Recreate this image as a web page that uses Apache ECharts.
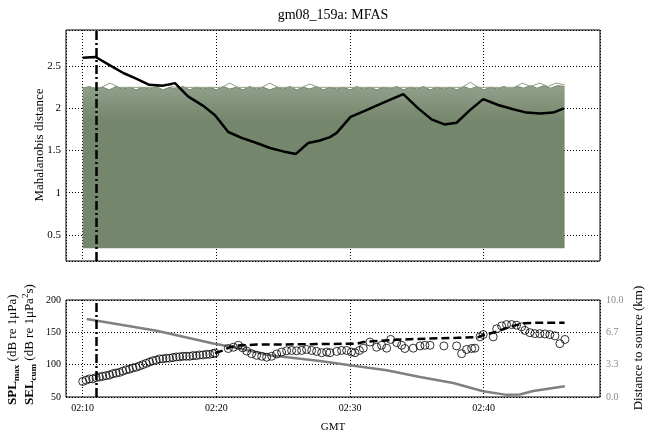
<!DOCTYPE html>
<html><head><meta charset="utf-8">
<script src="https://cdn.jsdelivr.net/npm/echarts@6/dist/echarts.min.js"></script>
<style>html,body{margin:0;padding:0;background:#fff}#c{width:646px;height:437px}</style>
</head><body><div id="c"></div>
<script>
const FONT = 'Liberation Serif';
const titleText = 'gm08_159a: MFAS';
// x values are minutes after 02:00 GMT
const xTicks = [10, 20, 30, 40];
const xTickLabels = ['02:10', '02:20', '02:30', '02:40'];
const eventMinute = 11;

// Mahalanobis distance of the event (black line)
const mahalMinutes = [10, 10.97, 12.04, 13.04, 14.04, 14.98, 16.03, 16.9, 17.9, 19.02, 19.9, 20.89, 21.89, 23.01, 24.01, 25.0, 25.95, 26.87, 27.75, 28.5, 29.0, 30.04, 31.1, 32.24, 33.98, 35.1, 36.1, 37.05, 37.97, 38.97, 39.96, 41.08, 42.2, 43.2, 44.2, 45.2, 46.0];
const mahalValues  = [2.60, 2.61, 2.51, 2.42, 2.35, 2.28, 2.27, 2.30, 2.14, 2.03, 1.92, 1.72, 1.65, 1.59, 1.53, 1.49, 1.46, 1.59, 1.62, 1.66, 1.71, 1.90, 1.97, 2.05, 2.17, 2.00, 1.87, 1.81, 1.83, 1.98, 2.11, 2.04, 1.99, 1.95, 1.94, 1.95, 2.00];

// Reference (background) distances: green band envelope
const bandFloor = 0.34;
const bandLightFloor = 1.85;
const bandMinutes = [10,10.5,11,11.5,12,12.5,13,13.5,14,14.5,
  15,15.5,16,16.5,17,17.5,18,18.5,19,19.5,
  20,20.5,21,21.5,22,22.5,23,23.5,24,24.5,
  25,25.5,26,26.5,27,27.5,28,28.5,29,29.5,
  30,30.5,31,31.5,32,32.5,33,33.5,34,34.5,
  35,35.5,36,36.5,37,37.5,38,38.5,39,39.5,
  40,40.5,41,41.5,42,42.5,43,43.5,44,44.5,
  45,45.5,46.05];
const bandTop = [2.24,2.26,2.23,2.25,2.22,2.26,2.23,2.25,2.22,2.25,
  2.23,2.26,2.22,2.25,2.23,2.26,2.22,2.25,2.23,2.25,
  2.22,2.26,2.23,2.25,2.22,2.26,2.23,2.25,2.22,2.25,
  2.23,2.26,2.22,2.25,2.23,2.26,2.22,2.25,2.23,2.25,
  2.22,2.26,2.23,2.25,2.22,2.25,2.23,2.26,2.22,2.25,
  2.23,2.26,2.22,2.25,2.23,2.25,2.22,2.26,2.23,2.26,
  2.22,2.25,2.23,2.26,2.23,2.26,2.24,2.27,2.24,2.27,
  2.24,2.27,2.26];
const peakMinutes = [10, 11.4, 12.05, 12.7, 15.5, 16.2, 16.9, 20.4, 21.0, 21.6, 23.4, 24.0, 24.6, 26.4, 27.0, 27.6, 38.4, 39.0, 39.6, 42.3, 42.9, 43.5, 44.2, 44.8, 45.4, 46.05];
const peakValues  = [2.24, 2.25, 2.30, 2.25, 2.25, 2.29, 2.25, 2.25, 2.30, 2.25, 2.25, 2.30, 2.25, 2.25, 2.29, 2.25, 2.25, 2.31, 2.25, 2.25, 2.30, 2.26, 2.30, 2.26, 2.30, 2.28];

// SPLmax (circles)
const splMinutes = [10.0,10.25,10.5,10.75,11.0,11.25,11.5,11.75,12.0,12.25,12.5,12.75,13.0,13.25,13.5,13.75,14.0,14.25,14.5,14.75,
  15.0,15.25,15.5,15.75,16.0,16.25,16.5,16.75,17.0,17.25,17.5,17.75,18.0,18.25,18.5,18.75,19.0,19.25,19.5,19.75,19.9,
  20.89,21.27,21.64,21.97,22.27,22.64,23.01,23.39,23.76,24.14,24.51,24.88,25.26,25.63,26.0,26.38,26.75,27.13,27.5,27.88,28.25,
  28.5,29.0,29.37,29.75,30.1,30.37,30.7,30.99,31.49,31.99,32.36,32.74,33.04,33.49,33.86,34.1,34.73,35.23,35.6,35.98,
  37.02,37.97,38.35,38.72,39.1,39.34,39.72,39.96,40.71,40.97,41.34,41.71,42.09,42.46,42.83,43.08,43.46,43.83,44.2,44.58,44.95,45.33,45.7,46.08];
const splValues = [74,76,78,78,80,81,82,83,84,86,87,88,90,92,93,95,96,98,100,102,
  104,106,107,109,109,110,110,111,112,112,113,113,113,114,114,115,115,116,116,117,118,
  125,127,130,126,121,117,114.5,113,111.5,113,116.5,119.5,121.5,122,121.5,122,123.5,122,120.5,118.5,119.5,
  118.5,120.5,122,122,119.5,118.5,122,125.5,135,127,130,125.5,139,134,130,125,125.5,129,130,130,
  129,129,117,123.5,125,125.5,143,146.5,143,155.5,160,162,162,161,158.5,153,149.5,148,148,147.5,146.5,144.5,132.5,139];

// SELcum (dashed line)
const selMinutes = [19.9, 20.5, 20.9, 21.5, 23.0, 26.0, 28.3, 30.5, 31.0, 32.0, 34.0, 36.0, 38.0, 39.6, 40.0, 40.8, 41.5, 42.2, 43.0, 44.0, 46.05];
const selValues  = [118, 122, 126, 129.5, 131, 131.5, 132, 132.5, 135, 136.5, 139, 140.5, 141.5, 142.5, 146, 150, 155, 160, 164, 165, 165];

// Distance to source, km (grey line, right axis)
const distMinutes = [10.3, 15.53, 19.77, 21.77, 24.0, 27.75, 30.0, 32.74, 35.23, 37.72, 39.96, 41.71, 42.7, 43.7, 46.07];
const distKm      = [8.05, 6.83, 5.52, 5.0, 4.31, 3.7, 3.28, 2.76, 2.07, 1.45, 0.6, 0.22, 0.25, 0.62, 1.1];

const zip = (xs, ys) => xs.map((x, i) => [x, ys[i]]);
const green = '#74866b';
const dotted = { color: '#000', width: 1, type: [1, 2] };
const xFmt = v => { const i = xTicks.findIndex(t => Math.abs(t - v) < 1e-6); return i >= 0 ? xTickLabels[i] : ''; };
const yTopFmt = v => (Math.abs(v * 2 - Math.round(v * 2)) < 1e-6) ? String(+v.toFixed(1)) : '';

const chart = echarts.init(document.getElementById('c'), null, { renderer: 'canvas' });
const option = {
  animation: false,
  backgroundColor: '#fff',
  textStyle: { fontFamily: FONT },
  grid: [
    { left: 66, right: 46, top: 30, height: 231, show: true, borderColor: '#000', borderWidth: 1 },
    { left: 66, right: 46, top: 300, height: 97, show: true, borderColor: '#000', borderWidth: 1 }
  ],
  xAxis: [
    { gridIndex: 0, type: 'value', min: 8.75, max: 48.7, splitNumber: 4,
      axisLine: { show: false }, axisTick: { show: false }, axisLabel: { show: false },
      splitLine: { show: true, lineStyle: dotted } },
    { gridIndex: 1, type: 'value', min: 8.75, max: 48.7, splitNumber: 4,
      axisLine: { show: false }, axisTick: { show: false },
      axisLabel: { show: true, fontSize: 10, color: '#000', margin: 6, fontFamily: FONT, formatter: xFmt },
      splitLine: { show: true, lineStyle: dotted },
      name: 'GMT', nameLocation: 'middle', nameGap: 25,
      nameTextStyle: { fontSize: 11, color: '#000', fontFamily: FONT } }
  ],
  yAxis: [
    { gridIndex: 0, type: 'value', min: 0.19, max: 2.93, splitNumber: 5,
      axisLine: { show: false }, axisTick: { show: false },
      axisLabel: { fontSize: 11, color: '#000', margin: 5, fontFamily: FONT, formatter: yTopFmt },
      splitLine: { show: true, lineStyle: dotted } },
    { gridIndex: 1, type: 'value', min: 50, max: 200, interval: 50,
      axisLine: { show: false }, axisTick: { show: false },
      axisLabel: { fontSize: 10, color: '#000', margin: 5, fontFamily: FONT },
      splitLine: { show: true, lineStyle: dotted } },
    { gridIndex: 1, type: 'value', position: 'right', min: 0, max: 10, interval: 10 / 3,
      axisLine: { show: false }, axisTick: { show: false },
      axisLabel: { fontSize: 10, color: '#8a8a8a', margin: 6, fontFamily: FONT, formatter: v => v.toFixed(1) },
      splitLine: { show: false } }
  ],
  graphic: [
    { type: 'text', x: 333, y: 15, silent: true,
      style: { text: titleText, font: '14px "Liberation Serif"', fill: '#000', align: 'center', verticalAlign: 'middle' } },
    { type: 'text', x: 40, y: 145, rotation: Math.PI / 2, silent: true,
      style: { text: 'Mahalanobis distance', font: '13px "Liberation Serif"', fill: '#000', align: 'center', verticalAlign: 'middle' } },
    { type: 'text', x: 639, y: 348, rotation: Math.PI / 2, silent: true,
      style: { text: 'Distance to source (km)', font: '13px "Liberation Serif"', fill: '#000', align: 'center', verticalAlign: 'middle' } },
    { type: 'text', x: 21, y: 405, rotation: Math.PI / 2, silent: true,
      style: {
        text: '{b|SPL}{s|max}{n| (dB re 1μPa)}\n{b|SEL}{s|cum}{n| (dB re 1μPa}{p|2}{n|s)}',
        align: 'left', verticalAlign: 'middle', fill: '#000',
        rich: {
          b: { fontFamily: FONT, fontSize: 13, fontWeight: 'bold', lineHeight: 17, fill: '#000' },
          s: { fontFamily: FONT, fontSize: 9, fontWeight: 'bold', lineHeight: 10, verticalAlign: 'bottom', fill: '#000' },
          n: { fontFamily: FONT, fontSize: 13, lineHeight: 17, fill: '#000' },
          p: { fontFamily: FONT, fontSize: 9, lineHeight: 10, verticalAlign: 'top', fill: '#000' }
        }
      } }
  ],
  series: [
    { type: 'line', xAxisIndex: 0, yAxisIndex: 0, data: zip(bandMinutes, bandTop), symbol: 'none',
      lineStyle: { color: green, width: 1 }, areaStyle: { color: green, opacity: 1, origin: bandFloor }, z: 2, silent: true },
    { type: 'line', xAxisIndex: 0, yAxisIndex: 0, data: zip(bandMinutes, bandTop), symbol: 'none',
      lineStyle: { width: 0, opacity: 0 },
      areaStyle: { origin: bandLightFloor, opacity: 1, color: new echarts.graphic.LinearGradient(0, 0, 0, 1, [
        { offset: 0, color: 'rgba(255,255,255,0.22)' }, { offset: 1, color: 'rgba(255,255,255,0)' }]) },
      z: 2, silent: true },
    { type: 'line', xAxisIndex: 0, yAxisIndex: 0, data: zip(peakMinutes, peakValues), symbol: 'none',
      lineStyle: { color: '#8e9d86', width: 1 }, z: 2, silent: true },
    { type: 'line', xAxisIndex: 0, yAxisIndex: 0, data: zip(mahalMinutes, mahalValues), symbol: 'none',
      lineStyle: { color: '#000', width: 2.5 }, z: 5,
      markLine: { silent: true, symbol: ['none', 'none'], label: { show: false },
        lineStyle: { color: '#000', width: 2.5, type: [9, 3, 2, 3] }, data: [{ xAxis: eventMinute }] } },
    { type: 'line', xAxisIndex: 1, yAxisIndex: 2, data: zip(distMinutes, distKm), symbol: 'none',
      lineStyle: { color: '#808080', width: 2.5 }, z: 3,
      markLine: { silent: true, symbol: ['none', 'none'], label: { show: false },
        lineStyle: { color: '#000', width: 2.5, type: [9, 3, 2, 3] }, data: [{ xAxis: eventMinute }] } },
    { type: 'line', xAxisIndex: 1, yAxisIndex: 1, data: zip(selMinutes, selValues), symbol: 'none',
      lineStyle: { color: '#000', width: 2.5, type: [8, 4] }, z: 4 },
    { type: 'scatter', xAxisIndex: 1, yAxisIndex: 1, data: zip(splMinutes, splValues), symbol: 'circle', symbolSize: 8,
      itemStyle: { color: 'rgba(0,0,0,0)', borderColor: '#000', borderWidth: 1 }, z: 5 }
  ]
};
chart.setOption(option);
</script></body></html>
